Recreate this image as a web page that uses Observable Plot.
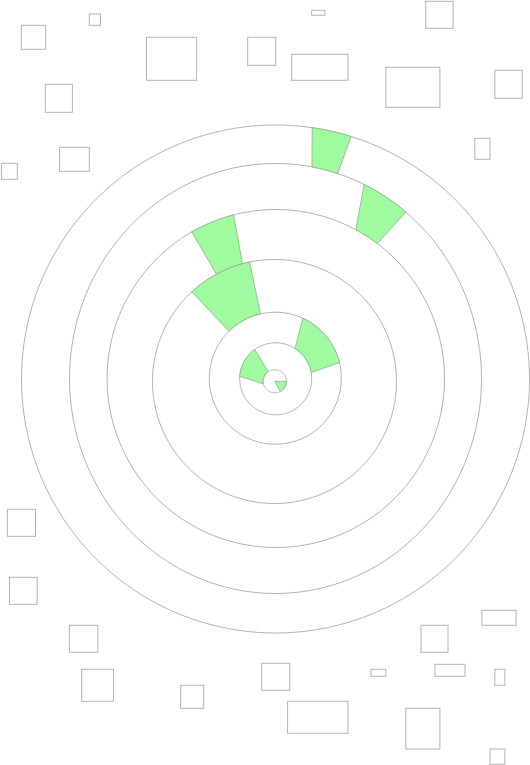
<!DOCTYPE html>
<html>
<head>
<meta charset="utf-8">
<script src="https://cdn.jsdelivr.net/npm/d3@7"></script>
<script src="https://cdn.jsdelivr.net/npm/@observablehq/plot@0.6"></script>
<style>
  body { margin: 0; background: #fff; }
</style>
</head>
<body>
<div id="chart"></div>
<script>
// rings (outer to inner): centre and radii
const ringCx = [275, 275, 275.3, 274, 274.8, 275.2, 274.3]
const ringCy = [378.5, 378, 378, 381, 377.7, 378.3, 380.8]
const ringRx = [254, 206, 168.7, 122, 66, 36, 11.7]
const ringRy = [254, 215, 169, 122, 66, 36, 11.5]

// green segments: ring index of outer edge, angles (deg, clockwise from north)
const segOuter = [0, 1, 2, 3, 4, 5, 6]
const segOuterStart = [8.3, 25.5, -29.9, -42.7, 24.6, -86, 90]
const segOuterEnd = [17.3, 39.3, -14.5, -11.8, 76.3, -35.5, 152.4]
const segInnerStart = [10.2, 28.3, -28.4, -44.6, 32.5, -103, 90]
const segInnerEnd = [17.6, 37, -15.2, -12.9, 80, -34, 152.4]

// loose boxes scattered around the rings
const boxX1 = [21.3, 89.3, 146.5, 247.7, 311.7, 291.7, 425.7, 385.8, 494.8, 45.3, 59.6, 1.4, 474.8,
  7.4, 9.5, 69.4, 81.6, 180.7, 261.6, 287.6, 370.9, 421, 481.9, 434.9, 494.8, 405.8, 490]
const boxX2 = [45.7, 100.5, 196.6, 275.8, 324.9, 347.9, 453.1, 439.9, 522.2, 72.4, 89.3, 17.3, 490,
  35.5, 37.2, 97.8, 113.4, 203.7, 289.7, 347.9, 385.8, 448, 516.1, 465, 504.9, 439.9, 504.9]
const boxY1 = [25.3, 14, 37.3, 37.3, 10.3, 54.3, 1.3, 67.3, 70.3, 84.3, 147.3, 163.3, 138.3,
  509.3, 577.3, 625.3, 669.3, 685.3, 663.3, 701.3, 669.3, 625.3, 610.3, 664.3, 669.3, 708.3, 749]
const boxY2 = [49.3, 25.3, 80.3, 65.3, 15.3, 80.3, 28.3, 107.3, 98.3, 112.3, 171.3, 179.3, 159.3,
  536.3, 604.3, 652.3, 701.3, 708.3, 690.3, 733.3, 676.3, 652.3, 625.3, 676.3, 685.3, 749, 764.3]

const rad = Math.PI / 180
const onRing = (k, a) => ({
  x: ringCx[k] + ringRx[k] * Math.sin(a * rad),
  y: ringCy[k] - ringRy[k] * Math.cos(a * rad)
})

const ringPts = []
ringRx.forEach((_, k) => {
  for (let a = 0; a <= 360; a += 2) ringPts.push({ring: k, ...onRing(k, a)})
})

const segPts = []
segOuter.forEach((k, i) => {
  const pts = []
  const n = 24
  for (let j = 0; j <= n; j++) {
    const a = segOuterStart[i] + (segOuterEnd[i] - segOuterStart[i]) * j / n
    pts.push(onRing(k, a))
  }
  if (k + 1 < ringRx.length) {
    for (let j = n; j >= 0; j--) {
      const a = segInnerStart[i] + (segInnerEnd[i] - segInnerStart[i]) * j / n
      pts.push(onRing(k + 1, a))
    }
  } else {
    pts.push({x: ringCx[k], y: ringCy[k]})
  }
  pts.push(pts[0])
  pts.forEach(p => segPts.push({seg: i, ...p}))
})

const boxes = boxX1.map((x1, i) => ({x1, x2: boxX2[i], y1: boxY1[i], y2: boxY2[i]}))

const chart = Plot.plot({
  width: 530,
  height: 765,
  margin: 0,
  x: {domain: [0, 530], axis: null},
  y: {domain: [0, 765], range: [0, 765], axis: null},
  style: {background: '#fff'},
  marks: [
    Plot.line(ringPts, {x: 'x', y: 'y', z: 'ring', stroke: '#b4b4b4', strokeWidth: 1}),
    Plot.line(segPts, {x: 'x', y: 'y', z: 'seg', fill: '#a0fa9f', stroke: '#8fb08f', strokeWidth: 0.8}),
    Plot.rect(boxes, {x1: 'x1', x2: 'x2', y1: 'y1', y2: 'y2', fill: 'none', stroke: '#b4b4b4', strokeWidth: 1})
  ]
})
d3.select('#chart').append(() => chart)
</script>
</body>
</html>
